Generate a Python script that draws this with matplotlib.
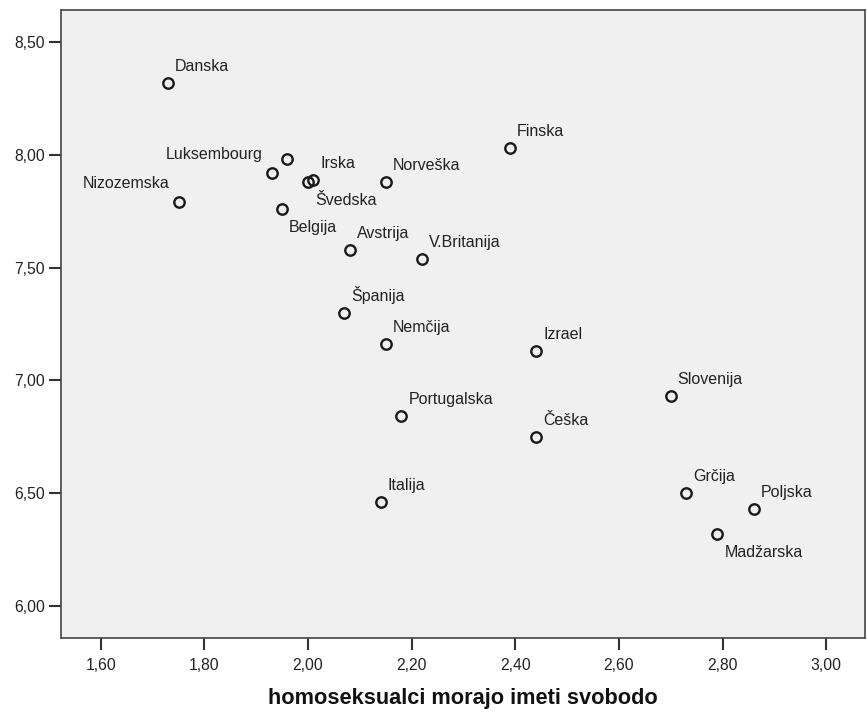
import matplotlib
matplotlib.use("Agg")
import matplotlib.pyplot as plt
from matplotlib.ticker import FuncFormatter

# data
countries = ["Danska", "", "Luksembourg", "Švedska", "Irska", "Nizozemska",
             "Belgija", "Norveška", "Finska", "Avstrija", "V.Britanija",
             "Španija", "Nemčija", "Izrael", "Portugalska", "Češka", "Italija",
             "Slovenija", "Grčija", "Poljska", "Madžarska"]
svoboda = [1.73, 1.96, 1.93, 2.00, 2.01, 1.75, 1.95, 2.15, 2.39, 2.08, 2.22,
           2.07, 2.15, 2.44, 2.18, 2.44, 2.14, 2.70, 2.73, 2.86, 2.79]
zadovoljstvo = [8.32, 7.98, 7.92, 7.88, 7.89, 7.79, 7.76, 7.88, 8.03, 7.58, 7.54,
                7.30, 7.16, 7.13, 6.84, 6.75, 6.46, 6.93, 6.50, 6.43, 6.32]

x_ticks = [1.6, 1.8, 2.0, 2.2, 2.4, 2.6, 2.8, 3.0]
y_ticks = [6.0, 6.5, 7.0, 7.5, 8.0, 8.5]

# label placement (pixels from the point): upper right unless listed
upper_left = {"Luksembourg", "Nizozemska"}
lower_right = {"Švedska", "Belgija", "Madžarska"}

plt.rcParams['font.family'] = ['Liberation Sans', 'DejaVu Sans']

fig = plt.figure(figsize=(8.67, 7.15), dpi=100)
ax = fig.add_axes([61 / 867, 77 / 715, 804 / 867, 628 / 715])
ax.set_facecolor("#f0f0f0")

ax.plot(svoboda, zadovoljstvo, linestyle="none", marker="o", markersize=7.5,
        markerfacecolor="none", markeredgecolor="#1a1a1a", markeredgewidth=1.7)

for name, x, y in zip(countries, svoboda, zadovoljstvo):
    if not name:
        continue
    if name in upper_left:
        off, ha, va = (-9, 11), "right", "bottom"
    elif name in lower_right:
        off, ha, va = (7, -11), "left", "top"
    else:
        off, ha, va = (7, 9), "left", "bottom"
    ax.annotate(name, (x, y), xytext=off, textcoords="offset pixels",
                ha=ha, va=va, fontsize=11.5, color="#222222")

ax.set_xlim(1.523, 3.075)
ax.set_ylim(5.858, 8.642)
ax.set_xticks(x_ticks)
ax.set_yticks(y_ticks)
fmt = FuncFormatter(lambda v, p: f"{v:.2f}".replace(".", ","))
ax.xaxis.set_major_formatter(fmt)
ax.yaxis.set_major_formatter(fmt)
ax.tick_params(direction="out", length=8.5, width=1.5, color="#333333",
               labelsize=11.3, labelcolor="#222222")
ax.tick_params(axis="x", pad=6)
ax.tick_params(axis="y", pad=3)
for s in ax.spines.values():
    s.set_color("#444444")
    s.set_linewidth(1.2)

ax.set_xlabel("homoseksualci morajo imeti svobodo", fontsize=15.7,
              fontweight="bold", labelpad=11, color="#111111")

fig.savefig("out.png", dpi=100)
